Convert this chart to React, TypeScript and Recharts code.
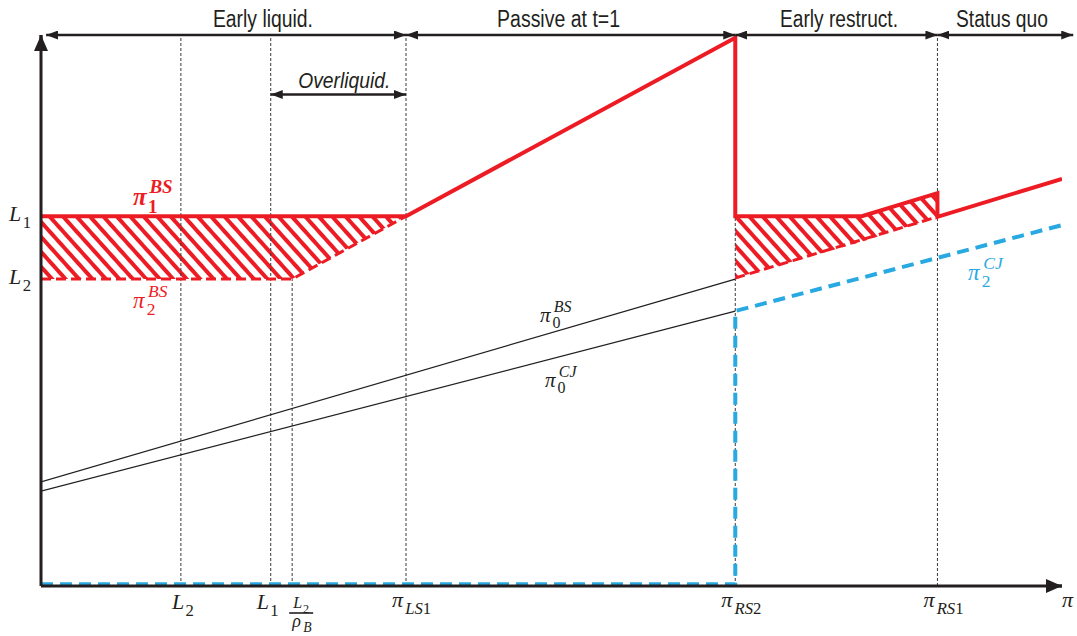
import React from 'react';
import {
  ComposedChart, Line, Area, XAxis, YAxis, ReferenceLine, ReferenceDot,
} from 'recharts';

const W = 1077;
const H = 636;
const INK = '#231F20';
const RED = '#ED1C24';
const BLUE = '#29A9E1';
const GUIDE = '#3a3a3a';
const MATH = '"Liberation Serif", "DejaVu Serif", serif';
const SANS = '"Liberation Sans Narrow", "Arial Narrow", "Liberation Sans", Arial, sans-serif';

// thresholds on the pi axis (axis runs 0..10)
const X_L2 = 1.37;
const X_L1 = 2.25;
const X_L2RHO = 2.46;
const X_LS1 = 3.575;
const X_RS2 = 6.8;
const X_RS1 = 8.78;

// payoff levels on the vertical axis
const Y_L1 = 6.71;
const Y_L2 = 5.57;

const X_TICKS = [X_L2, X_L1, X_L2RHO, X_LS1, X_RS2, X_RS1, 10];
const X_TICK_LABELS = [
  { base: 'L', sub: '2' }, { base: 'L', sub: '1' }, { frac: true },
  { base: 'π', sub: 'LS1' }, { base: 'π', sub: 'RS2' }, { base: 'π', sub: 'RS1' }, { base: 'π', sub: '' },
];
const Y_TICKS = [Y_L2, Y_L1];
const Y_TICK_LABELS = [{ base: 'L', sub: '2' }, { base: 'L', sub: '1' }];

// payoff curves
const pi1BS = [
  { x: 0, y: 6.71 }, { x: 3.575, y: 6.71 }, { x: 6.8, y: 9.95 }, { x: 6.8, y: 6.71 },
  { x: 8.04, y: 6.71 }, { x: 8.78, y: 7.13 }, { x: 8.78, y: 6.7 }, { x: 10, y: 7.39 },
];
const pi2BSLeft = [{ x: 0, y: 5.57 }, { x: 2.46, y: 5.57 }, { x: 3.575, y: 6.71 }];
const pi2BSRight = [{ x: 6.8, y: 5.59 }, { x: 8.78, y: 6.7 }];
const pi2CJ = [{ x: 0, y: 0.03 }, { x: 6.8, y: 0.03 }, { x: 6.8, y: 4.99 }, { x: 10, y: 6.55 }];
const pi0BS = [{ x: 0, y: 1.89 }, { x: 6.8, y: 5.57 }];
const pi0CJ = [{ x: 0, y: 1.72 }, { x: 6.8, y: 4.99 }];

// hatched gaps between pi1 and pi2
const gapLeft = [
  { x: 0, band: [5.57, 6.71] }, { x: 2.46, band: [5.57, 6.71] }, { x: 3.575, band: [6.71, 6.71] },
];
const gapRight = [
  { x: 6.8, band: [5.59, 6.71] }, { x: 8.04, band: [6.25, 6.71] }, { x: 8.78, band: [6.7, 7.13] },
];

// regime arrows along the top
const REGIMES = ['Early liquid.', 'Passive at t=1', 'Early restruct.', 'Status quo'];
const REGIME_BOUNDS = [0.05, 3.575, 6.8, 8.78, 10.11];
const REGIME_LABEL_X = [2.174, 5.069, 7.816, 9.412];
const REGIME_LABEL_W = [100, 123, 118, 92];

// italic letters, upright digits, like Cambria Math
function Script({ s }: { s: string }) {
  return (
    <>
      {s.split('').map((c, i) => (
        <tspan key={i} fontStyle={/[0-9]/.test(c) ? 'normal' : 'italic'}>{c}</tspan>
      ))}
    </>
  );
}

function MathSym(props: any) {
  const { x, y, base, sub, sup, color = INK, size = 20, bold = false } = props;
  const adv = base === 'π' ? size * 0.6 : size * 0.62;
  const small = size * 0.76;
  return (
    <g fill={color} fontFamily={MATH} fontWeight={bold ? 700 : 400}>
      <text x={x} y={y} fontSize={size} fontStyle="italic">{base}</text>
      {sub ? <text x={x + adv} y={y + size * 0.3} fontSize={small}><Script s={sub} /></text> : null}
      {sup ? <text x={x + adv + size * 0.06} y={y - size * 0.48} fontSize={small}><Script s={sup} /></text> : null}
    </g>
  );
}

function XTick(props: any) {
  const { x, y, index } = props;
  const lab: any = X_TICK_LABELS[index];
  if (!lab) return null;
  if (lab.frac) {
    return (
      <g fill={INK} fontFamily={MATH}>
        <MathSym x={x + 1} y={y + 22} base="L" sub="2" size={16} />
        <line x1={x - 3} x2={x + 21} y1={y + 27} y2={y + 27} stroke={INK} strokeWidth={1.6} />
        <MathSym x={x} y={y + 41} base="ρ" sub="B" size={18} />
      </g>
    );
  }
  if (lab.base === 'L') {
    const dx = index === 0 ? -9 : -14;
    return <MathSym x={x + dx} y={y + 23} base="L" sub={lab.sub} size={22} />;
  }
  const dx = lab.sub ? -14 : 0;
  return <MathSym x={x + dx} y={y + 21} base="π" sub={lab.sub} size={22} />;
}

function YTick(props: any) {
  const { x, y, index } = props;
  const lab = Y_TICK_LABELS[index];
  if (!lab) return null;
  return <MathSym x={x - 32} y={y + 5} base={lab.base} sub={lab.sub} size={22} />;
}

const arrowLine = (marker: string, width: number, start: boolean) => (p: any) => (
  <line
    x1={p.x1} y1={p.y1} x2={p.x2} y2={p.y2}
    stroke={INK} strokeWidth={width}
    markerStart={start ? `url(#${marker})` : undefined}
    markerEnd={`url(#${marker})`}
  />
);

const label = (text: string, w: number, size: number, italic = false) => (p: any) => (
  <text
    x={p.cx} y={p.cy} textAnchor="middle" fill={INK} fontFamily={SANS} fontSize={size}
    fontStyle={italic ? 'italic' : 'normal'} textLength={w} lengthAdjust="spacingAndGlyphs"
  >
    {text}
  </text>
);

const math = (base: string, sub: string, sup: string, color: string, size: number, bold = false) =>
  (p: any) => <MathSym x={p.cx} y={p.cy} base={base} sub={sub} sup={sup} color={color} size={size} bold={bold} />;

export default function App() {
  return (
    <div style={{ position: 'absolute', left: 0, top: 0, width: W, height: H, background: '#fff' }}>
      <ComposedChart width={W} height={H} margin={{ top: 35, right: 15, bottom: 20, left: 0 }}>
        <defs>
          <pattern id="hatch" patternUnits="userSpaceOnUse" width={10} height={10} patternTransform="rotate(-42)">
            <rect x={0} y={0} width={4} height={10} fill={RED} />
          </pattern>
          <marker id="head" viewBox="0 0 12 9" refX={12} refY={4.5} markerWidth={12} markerHeight={9}
            markerUnits="userSpaceOnUse" orient="auto-start-reverse">
            <path d="M0,0 L12,4.5 L0,9 z" fill={INK} />
          </marker>
          <marker id="axisHead" viewBox="0 0 16 14" refX={16} refY={7} markerWidth={16} markerHeight={14}
            markerUnits="userSpaceOnUse" orient="auto-start-reverse">
            <path d="M0,0 L16,7 L0,14 z" fill={INK} />
          </marker>
        </defs>

        <XAxis type="number" dataKey="x" domain={[0, 10]} ticks={X_TICKS} interval={0} allowDataOverflow
          axisLine={{ stroke: INK, strokeWidth: 3 }} tickLine={false} tickSize={0} tickMargin={0} height={30}
          tick={(p: any) => <XTick {...p} />} />
        <YAxis type="number" domain={[0, 10]} ticks={Y_TICKS} interval={0} allowDataOverflow
          axisLine={{ stroke: INK, strokeWidth: 3 }} tickLine={false} tickSize={0} tickMargin={0} width={41}
          tick={(p: any) => <YTick {...p} />} />

        {[X_L2, X_L1, X_LS1, X_RS2, X_RS1].map((v) => (
          <ReferenceLine key={v} x={v} stroke={GUIDE} strokeWidth={1} strokeDasharray="3 2" />
        ))}
        <ReferenceLine segment={[{ x: X_L2RHO, y: 0 }, { x: X_L2RHO, y: Y_L2 }]} stroke={GUIDE}
          strokeWidth={1} strokeDasharray="3 2" />

        <Area data={gapLeft} dataKey="band" type="linear" stroke="none" fill="url(#hatch)" fillOpacity={1}
          dot={false} activeDot={false} isAnimationActive={false} />
        <Area data={gapRight} dataKey="band" type="linear" stroke="none" fill="url(#hatch)" fillOpacity={1}
          dot={false} activeDot={false} isAnimationActive={false} />

        <Line data={pi0BS} dataKey="y" type="linear" stroke={INK} strokeWidth={1.2} dot={false} activeDot={false} isAnimationActive={false} />
        <Line data={pi0CJ} dataKey="y" type="linear" stroke={INK} strokeWidth={1.2} dot={false} activeDot={false} isAnimationActive={false} />
        <Line data={pi2CJ} dataKey="y" type="linear" stroke={BLUE} strokeWidth={4} strokeDasharray="12 7" dot={false} activeDot={false} isAnimationActive={false} />
        <Line data={pi2BSLeft} dataKey="y" type="linear" stroke={RED} strokeWidth={3} strokeDasharray="10 5" dot={false} activeDot={false} isAnimationActive={false} />
        <Line data={pi2BSRight} dataKey="y" type="linear" stroke={RED} strokeWidth={3} strokeDasharray="10 5" dot={false} activeDot={false} isAnimationActive={false} />
        <Line data={pi1BS} dataKey="y" type="linear" stroke={RED} strokeWidth={4} dot={false} activeDot={false} isAnimationActive={false} />

        {/* arrow heads on the axes */}
        <ReferenceLine segment={[{ x: 0, y: 9.9 }, { x: 0, y: 10 }]} ifOverflow="visible" shape={arrowLine('axisHead', 3, false)} />
        <ReferenceLine segment={[{ x: 9.9, y: 0 }, { x: 10, y: 0 }]} ifOverflow="visible" shape={arrowLine('axisHead', 3, false)} />

        {REGIMES.map((r, i) => (
          <ReferenceLine key={r} segment={[{ x: REGIME_BOUNDS[i], y: 10 }, { x: REGIME_BOUNDS[i + 1], y: 10 }]}
            ifOverflow="visible" shape={arrowLine('head', 2.5, true)} />
        ))}
        {REGIMES.map((r, i) => (
          <ReferenceDot key={r} x={REGIME_LABEL_X[i]} y={10.145} r={0} ifOverflow="visible"
            shape={label(r, REGIME_LABEL_W[i], 23)} />
        ))}
        <ReferenceLine segment={[{ x: X_L1, y: 8.92 }, { x: X_LS1, y: 8.92 }]} ifOverflow="visible"
          shape={arrowLine('head', 2.5, true)} />
        <ReferenceDot x={2.97} y={9.04} r={0} ifOverflow="visible" shape={label('Overliquid.', 92, 22, true)} />

        <ReferenceDot x={0.9} y={6.91} r={0} ifOverflow="visible" shape={math('π', '1', 'BS', RED, 25, true)} />
        <ReferenceDot x={0.9} y={5.045} r={0} ifOverflow="visible" shape={math('π', '2', 'BS', RED, 23)} />
        <ReferenceDot x={4.887} y={4.79} r={0} ifOverflow="visible" shape={math('π', '0', 'BS', INK, 21)} />
        <ReferenceDot x={4.936} y={3.61} r={0} ifOverflow="visible" shape={math('π', '0', 'CJ', INK, 21)} />
        <ReferenceDot x={9.08} y={5.55} r={0} ifOverflow="visible" shape={math('π', '2', 'CJ', BLUE, 23)} />
      </ComposedChart>
    </div>
  );
}
